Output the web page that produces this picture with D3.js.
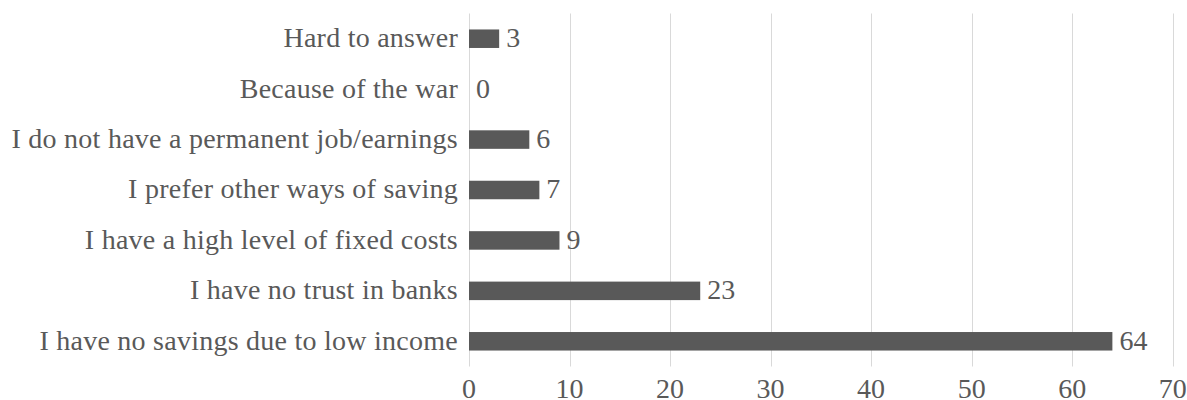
<!DOCTYPE html>
<html>
<head>
<meta charset="utf-8">
<script src="https://cdn.jsdelivr.net/npm/d3@7"></script>
<style>
  html, body { margin: 0; padding: 0; background: #ffffff; }
  svg { display: block; }
</style>
</head>
<body>
<div id="chart"></div>
<script>
// Reasons for not keeping savings in banks, % of respondents
const categories = [
  "Hard to answer",
  "Because of the war",
  "I do not have a permanent job/earnings",
  "I prefer other ways of saving",
  "I have a high level of fixed costs",
  "I have no trust in banks",
  "I have no savings due to low income"
];
const values = [3, 0, 6, 7, 9, 23, 64];
const xTicks = [0, 10, 20, 30, 40, 50, 60, 70];

const width = 1187, height = 400;
const margin = { top: 13.5, right: 14, bottom: 33.5, left: 469 };
const textColor = "#595959";
const barColor = "#595959";
const gridColor = "#d9d9d9";
const fontFamily = "'Liberation Serif'";
const fontSize = "28px";
const tracking = "0.25px";

const svg = d3.select("#chart").append("svg")
  .attr("width", width)
  .attr("height", height);

const x = d3.scaleLinear()
  .domain([0, 70])
  .range([margin.left, 1172.7]);

const y = d3.scaleBand()
  .domain(categories)
  .range([margin.top, height - margin.bottom])
  .paddingInner(0.633)
  .paddingOuter(0.3165);

// vertical gridlines
svg.append("g")
  .selectAll("line")
  .data(xTicks)
  .join("line")
  .attr("x1", d => Math.round(x(d)) + 0.5)
  .attr("x2", d => Math.round(x(d)) + 0.5)
  .attr("y1", margin.top)
  .attr("y2", height - margin.bottom)
  .attr("stroke", gridColor)
  .attr("stroke-width", 1);

// x tick labels
svg.append("g")
  .selectAll("text")
  .data(xTicks)
  .join("text")
  .attr("x", d => x(d))
  .attr("y", 398)
  .attr("text-anchor", "middle")
  .style("font-family", fontFamily)
  .style("font-size", fontSize)
  .attr("fill", textColor)
  .text(d => d);

// bars
svg.append("g")
  .selectAll("rect")
  .data(values)
  .join("rect")
  .attr("x", x(0))
  .attr("y", (d, i) => y(categories[i]))
  .attr("width", d => x(d) - x(0))
  .attr("height", y.bandwidth())
  .attr("fill", barColor);

// category labels
svg.append("g")
  .selectAll("text")
  .data(categories)
  .join("text")
  .attr("x", x(0) - 11)
  .attr("y", d => y(d) + y.bandwidth() / 2)
  .attr("dy", "0.3em")
  .attr("text-anchor", "end")
  .style("font-family", fontFamily)
  .style("font-size", fontSize)
  .style("letter-spacing", tracking)
  .attr("fill", textColor)
  .text(d => d);

// value labels
svg.append("g")
  .selectAll("text")
  .data(values)
  .join("text")
  .attr("x", d => x(d) + 7)
  .attr("y", (d, i) => y(categories[i]) + y.bandwidth() / 2)
  .attr("dy", "0.3em")
  .attr("text-anchor", "start")
  .style("font-family", fontFamily)
  .style("font-size", fontSize)
  .attr("fill", textColor)
  .text(d => d);
</script>
</body>
</html>
